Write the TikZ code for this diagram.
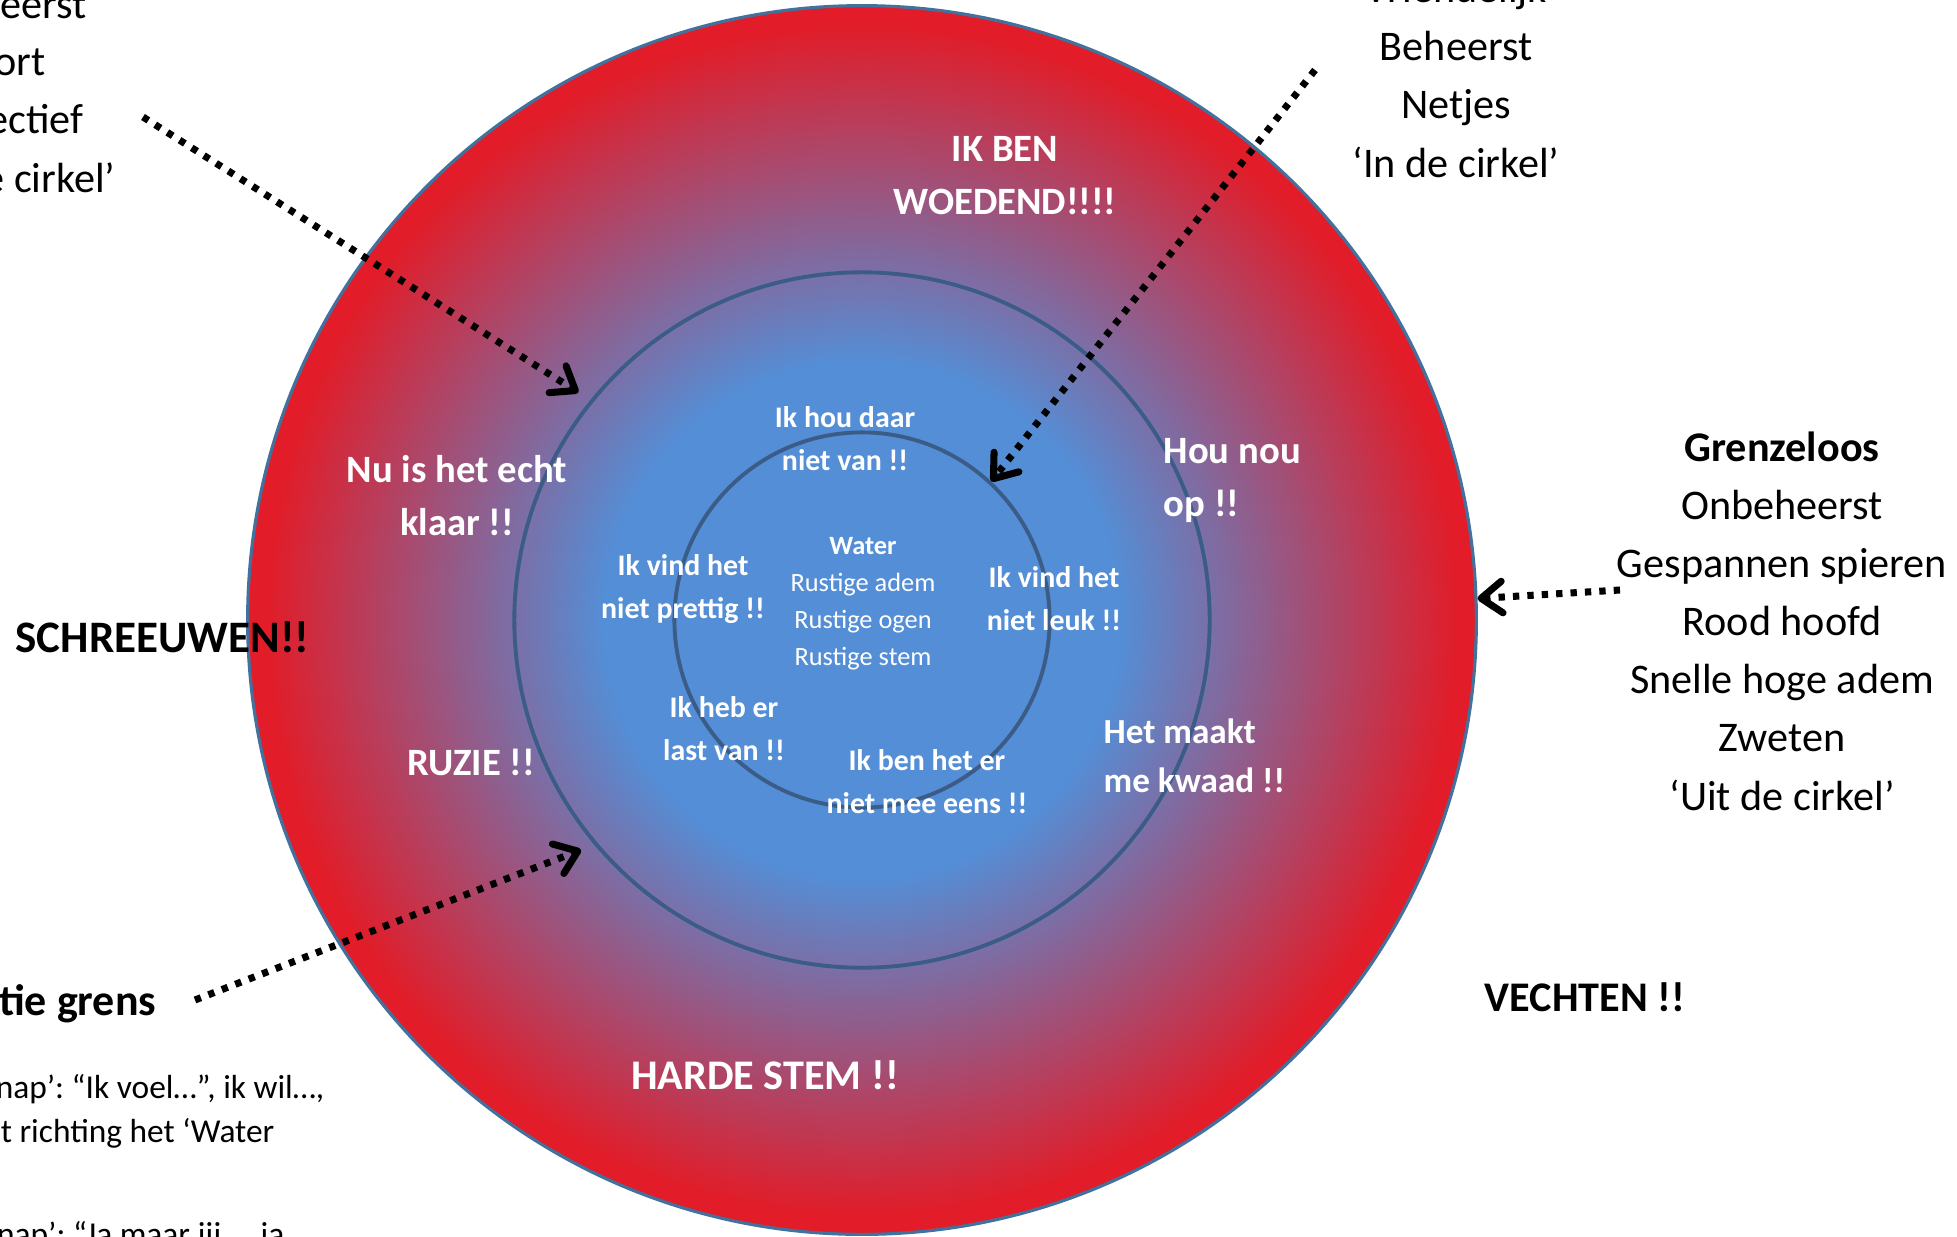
\documentclass[tikz,border=0pt]{standalone}
\usepackage{fontspec}
\setmainfont{Carlito}
\frenchspacing
\usepackage{tikz}
\usetikzlibrary{shapes, arrows.meta}
\definecolor{calmblue}{RGB}{84,142,214}
\definecolor{angerred}{RGB}{226,28,40}
\definecolor{rageedge}{RGB}{65,113,156}
\definecolor{ringline}{RGB}{58,92,135}
\pgfdeclareradialshading{angerglow}{\pgfpoint{0bp}{0bp}}%
        {color(0bp)=(calmblue); color(10.5bp)=(calmblue); color(24.3bp)=(angerred); color(50bp)=(angerred)}
\tikzstyle{ring} =
        [
                circle,
                draw = ringline,
                line width = 1.1pt,
                inner sep = 0pt
        ]
\tikzstyle{side} =
        [
                font = \fontsize{12}{16.5}\selectfont,
                align = center,
                inner sep = 0pt
        ]
\tikzstyle{shout} =
        [
                font = \bfseries\fontsize{12}{16}\selectfont,
                inner sep = 0pt
        ]
\tikzstyle{note} =
        [
                font = \fontsize{9.5}{12.7}\selectfont,
                inner sep = 0pt
        ]
\tikzstyle{zone} =
        [
                font = \bfseries\fontsize{11}{15}\selectfont,
                text = white,
                align = center,
                inner sep = 0pt
        ]
\tikzstyle{feel} =
        [
                font = \bfseries\fontsize{8.5}{12.2}\selectfont,
                text = white,
                align = center,
                inner sep = 0pt
        ]
\tikzstyle{calm} =
        [
                font = \fontsize{7.5}{10.5}\selectfont,
                text = white,
                align = center,
                inner sep = 0pt
        ]
\tikzstyle{line} =
        [
                draw,
                line width = 2pt,
                dash pattern = on 1.8pt off 2.3pt,
                -{Straight Barb[length = 6pt, width = 9pt, round]}
        ]

\begin{document}
\begin{tikzpicture}[x = 0.01cm, y = -0.01cm]
	        \useasboundingbox (0,0) rectangle (1957,1236);
	        % de drie cirkels
	        \node [ring, shading = angerglow, draw = rageedge, line width = 0.9pt, minimum size = 12.28cm] (rage) at (862,620) {};
	        \node [ring, minimum size = 6.95cm] (limit) at (862,620) {};
	        \node [ring, minimum size = 3.75cm] (calm) at (862,620) {};
	        % teksten buiten de cirkel
	        \node [side, anchor = base east] (tlone) at (87,18) {eerst};
	        \node [side, anchor = base east] (tltwo) at (46,75) {ort};
	        \node [side, anchor = base east] (tlthree) at (84,133) {ectief};
	        \node [side, anchor = base east] (tlfour) at (116,192) {e cirkel’};
	        \node [side, anchor = base] (inkring) at (1456,177) {Vriendelijk\\Beheerst\\Netjes\\‘In de cirkel’};
	        \node [side, anchor = base] (uitkring) at (1782,810) {\textbf{Grenzeloos}\\Onbeheerst\\Gespannen spieren\\Rood hoofd\\Snelle hoge adem\\Zweten\\‘Uit de cirkel’};
	        \node [shout, anchor = base west, font = \bfseries\fontsize{12.8}{16}\selectfont] (schreeuw) at (15,652) {SCHREEUWEN!!};
	        \node [shout, anchor = base] (vechten) at (1585,1011) {VECHTEN !!};
	        \node [shout, anchor = base east, font = \bfseries\fontsize{12.5}{16}\selectfont] (grens) at (157,1015) {tie grens};
	        \node [note, anchor = base east] (ikvoel) at (325,1098) {nap’: “Ik voel…”, ik wil…,};
	        \node [note, anchor = base east] (richting) at (275,1142) {t richting het ‘Water};
	        \node [note, anchor = base east] (jamaar) at (285,1245) {nap’: “Ja maar jij…, ja};
	        % teksten in de rode ring
	        \node [zone, anchor = base] (woedend) at (1005,214) {IK BEN\\WOEDEND!!!!};
	        \node [zone, anchor = base] (klaar) at (457,535) {Nu is het echt\\klaar !!};
	        \node [zone, anchor = base west, align = left] (opnou) at (1163,516) {Hou nou\\op !!};
	        \node [zone, anchor = base] (ruzie) at (471,775) {RUZIE !!};
	        \node [zone, anchor = base west, align = left, font = \bfseries\fontsize{10}{13.7}\selectfont] (kwaad) at (1103,792) {Het maakt\\me kwaad !!};
	        \node [zone, anchor = base, font = \bfseries\fontsize{12}{15}\selectfont] (hardestem) at (765,1089) {HARDE STEM !!};
	        % teksten in de blauwe ring
	        \node [feel, anchor = base] (houdaar) at (845,470) {Ik hou daar\\niet van !!};
	        \node [feel, anchor = base] (prettig) at (683,618) {Ik vind het\\niet prettig !!};
	        \node [feel, anchor = base] (leuk) at (1054,630) {Ik vind het\\niet leuk !!};
	        \node [feel, anchor = base] (last) at (724,760) {Ik heb er\\last van !!};
	        \node [feel, anchor = base] (eens) at (927,813) {Ik ben het er\\niet mee eens !!};
	        \node [calm, anchor = base] (water) at (863,665) {\textbf{Water}\\Rustige adem\\Rustige ogen\\Rustige stem};
	        % pijlen
	        \coordinate (tlfrom) at (143,117);
	        \coordinate (trfrom) at (1315,70);
	        \coordinate (rfrom) at (1620,590);
	        \coordinate (blfrom) at (195,1000);
	        \path [line, shorten > = 4pt] (tlfrom) -- (limit.141);
	        \path [line] (trfrom) -- (calm.47);
	        \path [line] (rfrom) -- (rage.2);
	        \path [line, shorten > = 4pt] (blfrom) -- (limit.220);
\end{tikzpicture}
\end{document}
